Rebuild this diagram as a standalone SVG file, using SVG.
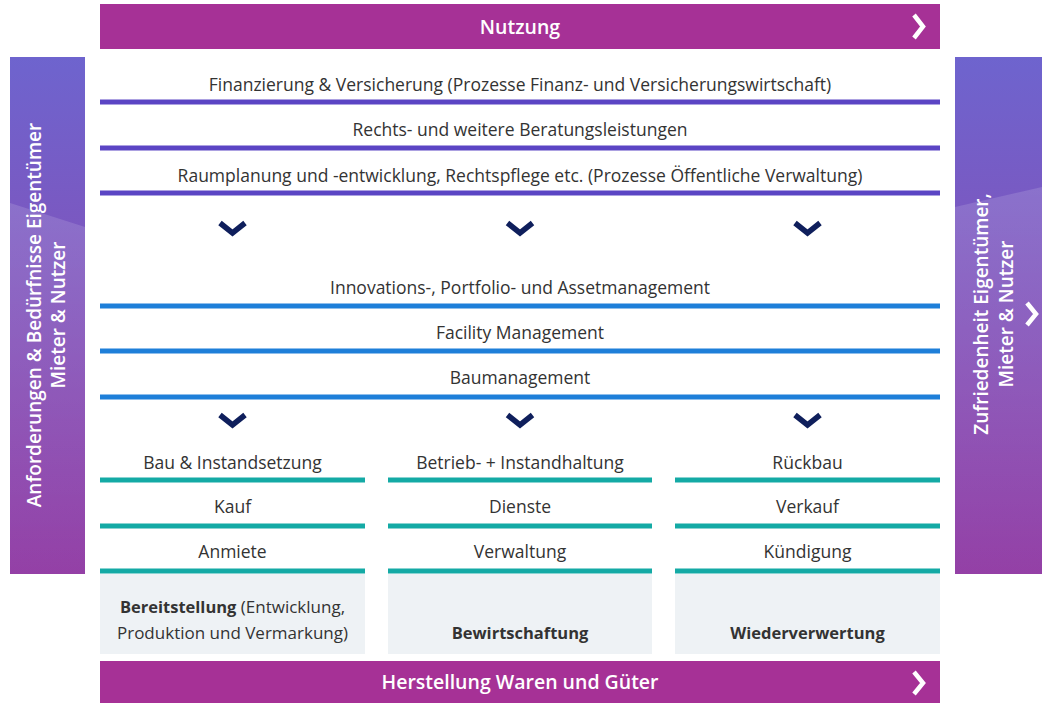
<svg xmlns="http://www.w3.org/2000/svg" width="1042" height="703" viewBox="0 0 1042 703">
<style>
.lbl{font-family:"Open Sans","Noto Sans",sans-serif;font-size:17.5px;fill:#333;text-anchor:middle}
.bar{font-family:"Open Sans","Noto Sans",sans-serif;font-size:19.5px;font-weight:600;fill:#fff;text-anchor:middle}
.side{font-family:"Open Sans","Noto Sans",sans-serif;font-size:19px;font-weight:600;fill:#fff;text-anchor:middle}
.box{font-family:"Open Sans","Noto Sans",sans-serif;font-size:17px;fill:#333;text-anchor:middle}
.b{font-weight:700;font-size:16.5px}
.lp{stroke:#5b45c4;stroke-width:5}
.lb{stroke:#1e7fd9;stroke-width:5}
.lt{stroke:#14aaa5;stroke-width:5}
.chev{fill:none;stroke:#0f1f5c;stroke-width:5.5}
.wchev{fill:none;stroke:#fff;stroke-width:4.5}
</style>
<defs>
<linearGradient id="sideG" x1="0" y1="0" x2="0" y2="1">
<stop offset="0" stop-color="#6e64ce"/>
<stop offset="1" stop-color="#9440a6"/>
</linearGradient>
<linearGradient id="gloss" x1="0" y1="0" x2="0" y2="1">
<stop offset="0" stop-color="#fff" stop-opacity="0.14"/>
<stop offset="1" stop-color="#fff" stop-opacity="0"/>
</linearGradient>
</defs>
<rect width="1042" height="703" fill="#fff"/>

<g id="nutzung">
<rect x="100" y="4" width="840" height="45" fill="#a63196"/>
<text class="bar" x="520" y="34">Nutzung</text>
<path class="wchev" d="M914 15 L923 26.5 L914 38"/>
</g>

<g id="anforderungen">
<rect x="10" y="57" width="75" height="517" fill="url(#sideG)"/>
<polygon points="10,203 85,227 85,574 10,574" fill="url(#gloss)"/>
<text class="side" transform="translate(41,315) rotate(-90)">Anforderungen &amp; Bedürfnisse Eigentümer</text>
<text class="side" transform="translate(65,315) rotate(-90)">Mieter &amp; Nutzer</text>
</g>

<g id="zufriedenheit">
<rect x="955" y="57" width="87" height="517" fill="url(#sideG)"/>
<polygon points="955,207 1042,187 1042,574 955,574" fill="url(#gloss)"/>
<text class="side" transform="translate(988,314) rotate(-90)">Zufriedenheit Eigentümer,</text>
<text class="side" transform="translate(1013,314) rotate(-90)">Mieter &amp; Nutzer</text>
<path class="wchev" d="M1027 303 L1036 314 L1027 325"/>
</g>

<g id="ebene1">
<text class="lbl" x="520" y="91">Finanzierung &amp; Versicherung (Prozesse Finanz- und Versicherungswirtschaft)</text>
<line class="lp" x1="100" y1="102" x2="940" y2="102"/>
<text class="lbl" x="520" y="136">Rechts- und weitere Beratungsleistungen</text>
<line class="lp" x1="100" y1="148" x2="940" y2="148"/>
<text class="lbl" x="520" y="182">Raumplanung und -entwicklung, Rechtspflege etc. (Prozesse Öffentliche Verwaltung)</text>
<line class="lp" x1="100" y1="193" x2="940" y2="193"/>
</g>

<g id="ebene2">
<text class="lbl" x="520" y="294">Innovations-, Portfolio- und Assetmanagement</text>
<line class="lb" x1="100" y1="306" x2="940" y2="306"/>
<text class="lbl" x="520" y="339">Facility Management</text>
<line class="lb" x1="100" y1="351" x2="940" y2="351"/>
<text class="lbl" x="520" y="384">Baumanagement</text>
<line class="lb" x1="100" y1="397" x2="940" y2="397"/>
</g>

<g id="connectors">
<path class="chev" d="M220 223 L232.5 233 L245 223"/>
<path class="chev" d="M507.5 223 L520 233 L532.5 223"/>
<path class="chev" d="M795 223 L807.5 233 L820 223"/>
<path class="chev" d="M220 415 L232.5 425 L245 415"/>
<path class="chev" d="M507.5 415 L520 425 L532.5 415"/>
<path class="chev" d="M795 415 L807.5 425 L820 415"/>
</g>

<g id="bereitstellung">
<text class="lbl" x="232.5" y="469">Bau &amp; Instandsetzung</text>
<line class="lt" x1="100" y1="480" x2="365" y2="480"/>
<text class="lbl" x="232.5" y="513">Kauf</text>
<line class="lt" x1="100" y1="526" x2="365" y2="526"/>
<text class="lbl" x="232.5" y="558">Anmiete</text>
<line class="lt" x1="100" y1="571" x2="365" y2="571"/>
<rect x="100" y="574" width="265" height="80" fill="#eef2f5"/>
<text class="box" x="232.5" y="613"><tspan class="b" font-size="17px">Bereitstellung</tspan> (Entwicklung,</text>
<text class="box" x="232.5" y="639">Produktion und Vermarkung)</text>
</g>

<g id="bewirtschaftung">
<text class="lbl" x="520" y="469">Betrieb- + Instandhaltung</text>
<line class="lt" x1="388" y1="480" x2="652" y2="480"/>
<text class="lbl" x="520" y="513">Dienste</text>
<line class="lt" x1="388" y1="526" x2="652" y2="526"/>
<text class="lbl" x="520" y="558">Verwaltung</text>
<line class="lt" x1="388" y1="571" x2="652" y2="571"/>
<rect x="388" y="574" width="264" height="80" fill="#eef2f5"/>
<text class="box b" x="520" y="639">Bewirtschaftung</text>
</g>

<g id="wiederverwertung">
<text class="lbl" x="807.5" y="469">Rückbau</text>
<line class="lt" x1="675" y1="480" x2="940" y2="480"/>
<text class="lbl" x="807.5" y="513">Verkauf</text>
<line class="lt" x1="675" y1="526" x2="940" y2="526"/>
<text class="lbl" x="807.5" y="558">Kündigung</text>
<line class="lt" x1="675" y1="571" x2="940" y2="571"/>
<rect x="675" y="574" width="265" height="80" fill="#eef2f5"/>
<text class="box b" x="807.5" y="639">Wiederverwertung</text>
</g>

<g id="herstellung">
<rect x="100" y="661" width="840" height="42" fill="#a63196"/>
<text class="bar" x="520" y="689">Herstellung Waren und Güter</text>
<path class="wchev" d="M914 672 L923 683 L914 694"/>
</g>
</svg>
